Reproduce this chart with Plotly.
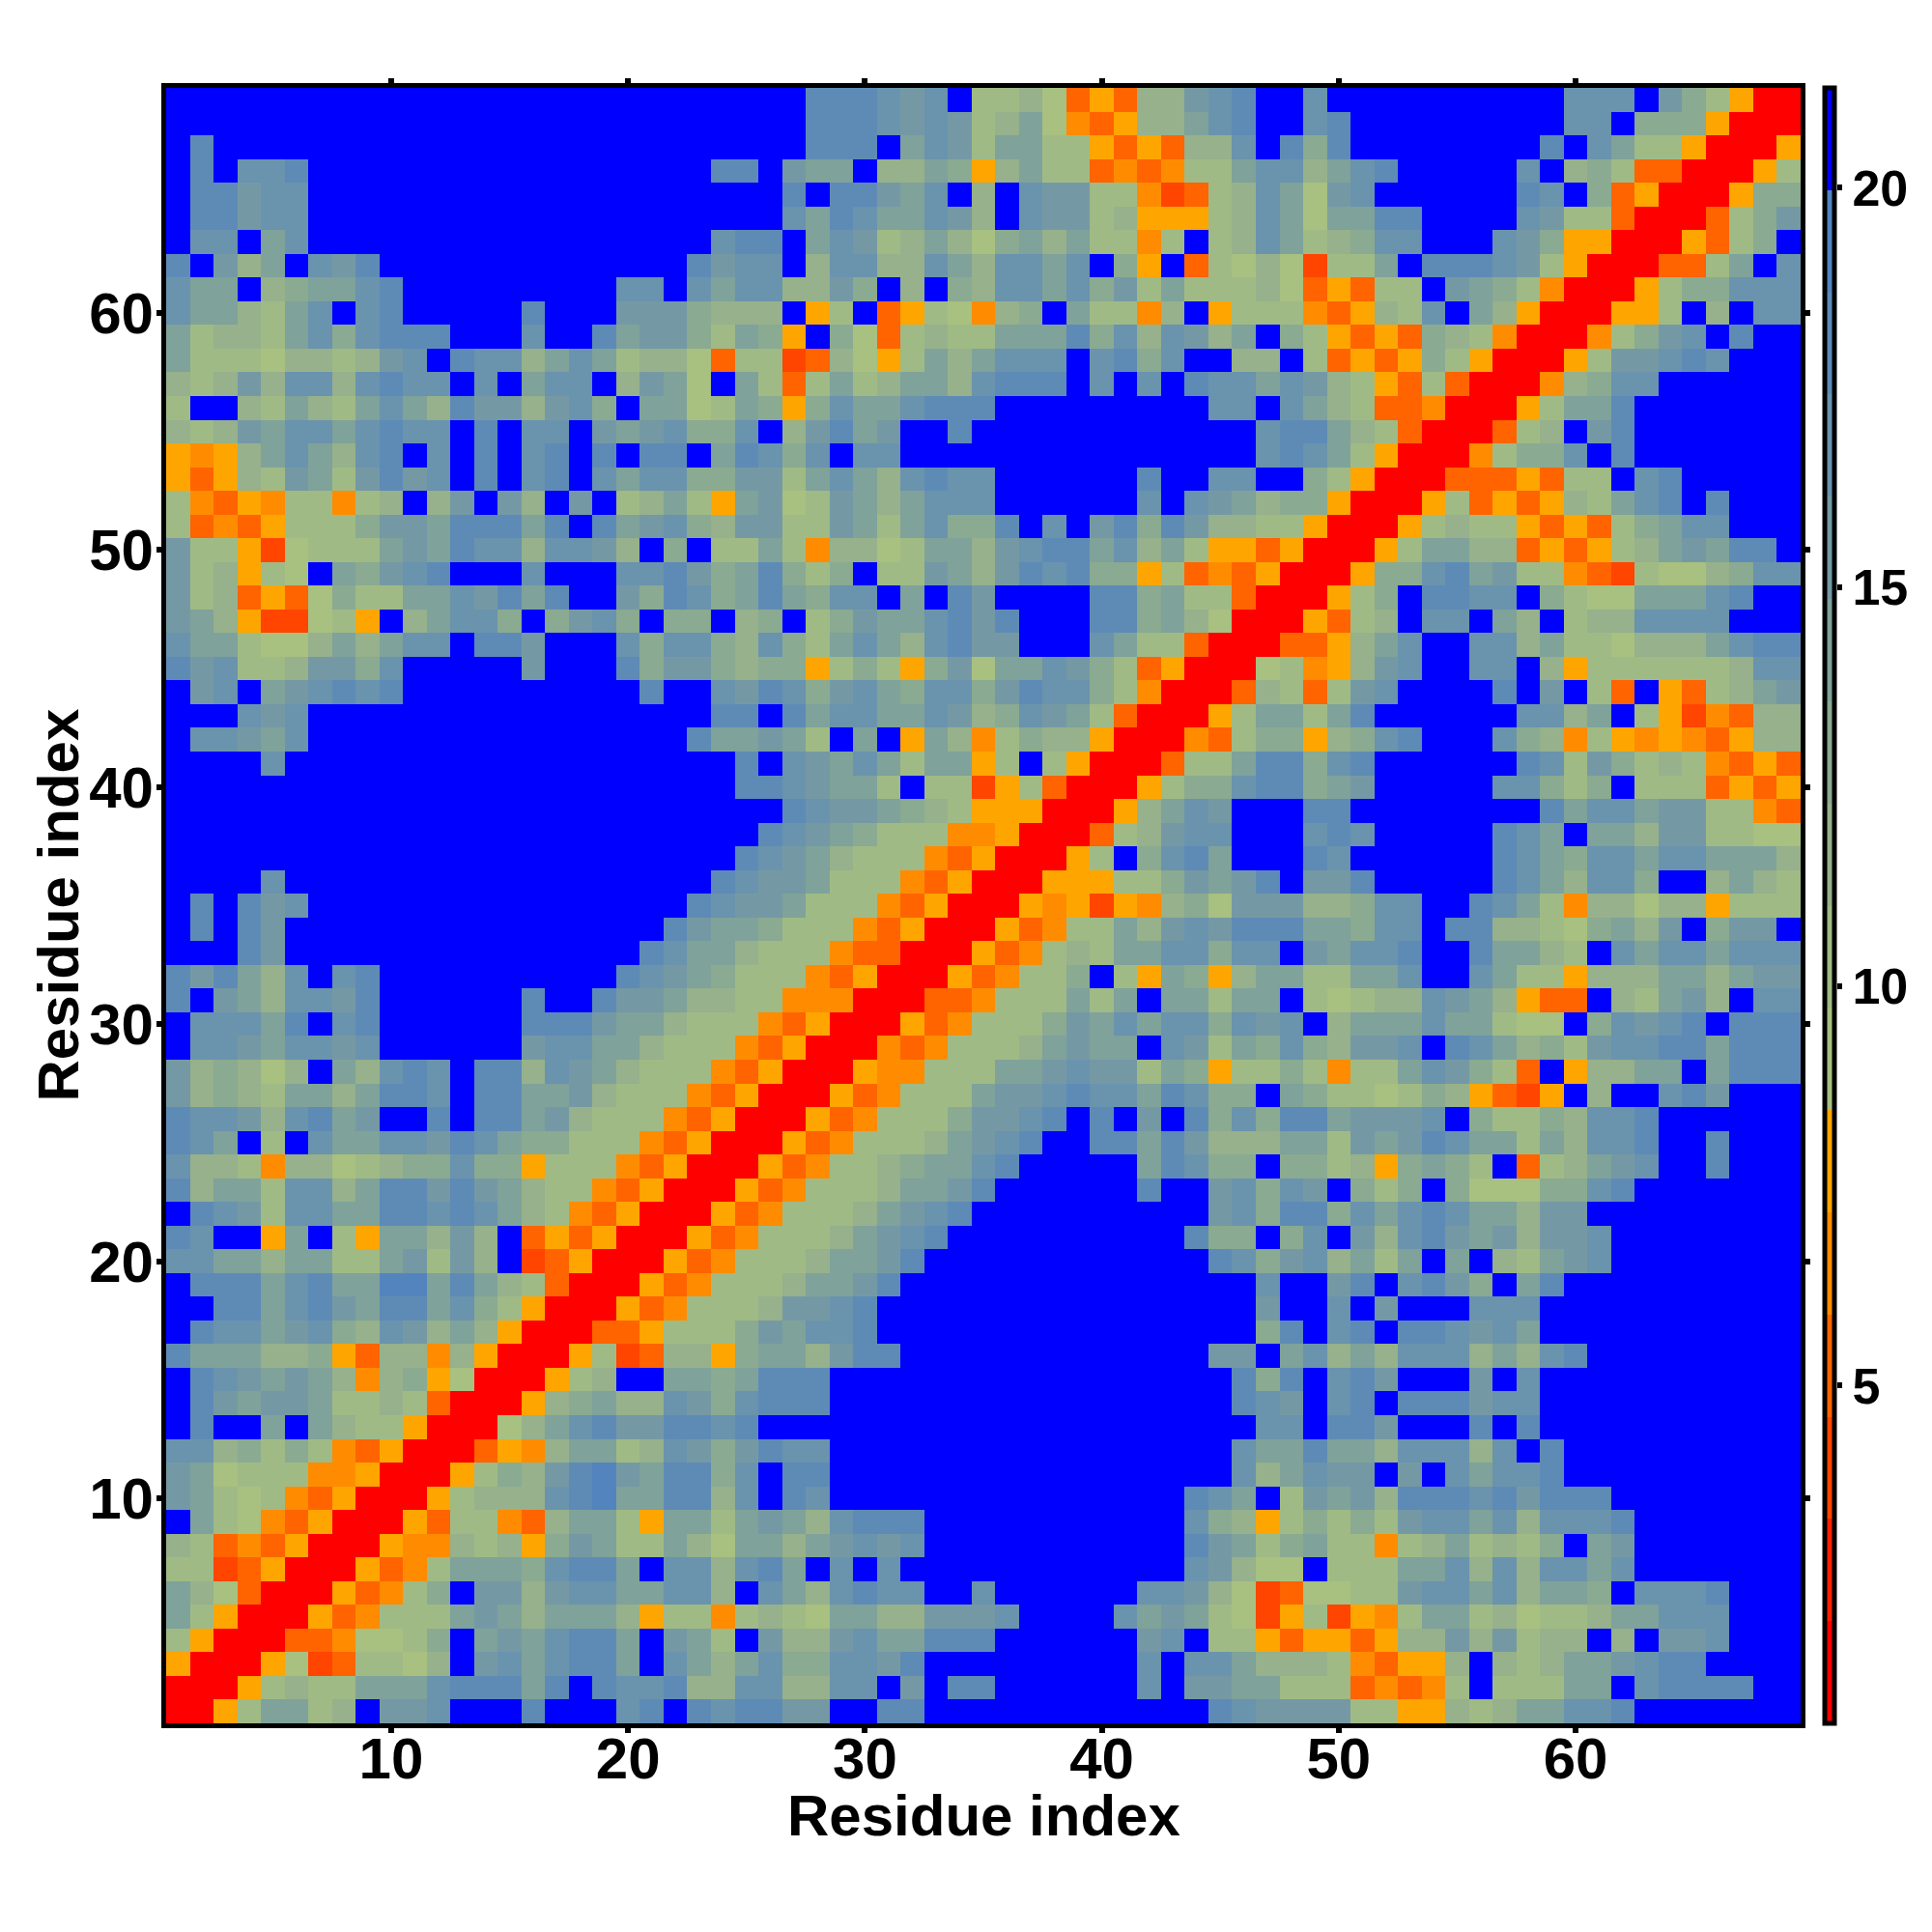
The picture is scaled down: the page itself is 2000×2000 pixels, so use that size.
import plotly.graph_objects as go

# Upper triangle of the symmetric distance map, one string per residue.
# Each row starts at its diagonal cell; each character is a colour-bin index (hex).
upper_rows = [
"0057aa78fb bcfffdfffc dfdcddbbff ddffffffff ffffdcbbbb 7755878aac cdfffffff",
"0057877aa acdddadfdc cd88cc88cc fbfddfffff fcfbbaa777 34347f777a afcddddff",
"00562377 68fbcacdda fca8ac99cc bdffffffff fcfcca8887 43558f878a abcddffff",
"0033466 79fabacdda fba7fb88bc aadddfffff fbcf775355 3588b8b788 f8fbbcfff",
"005347 77aba8aaa8 57747876aa 88bbbcffff caba762572 547aa78677 8aacccfff",
"00534 79fbb8bcca acc8fca8cd ccffcfffff fccb862366 77bccac8aa 9fcccdfff",
"0053 47aaa9cdda fcc8cdafcf cfffffffff fffcb866f7 77aac8c8cc acfffffff",
"005 4487859ba7 7a86aa8abc bcffffffff fffdba79a7 7478a7879f abfffffff",
"00 5377438aa7 5aa7aba8cd ddffffffff fffc985797 97bccac8cc cdfffffff",
"0 057888cdea add8cfdcff ffffffffff fffdcaf7ba b8dddcdbdd dffffffff",
"005798bdeb add9cfddff ffffffffff fffffc8acb bfbfcaccdf fffffffff",
"003548aa7 8cb9bdccff ffffffffff fffffcaada a8ccc8cfdf fffffffff",
"0068acdb bddcdfffff ffffffffff ffffffccfd dbfffdfdff fffffffff",
"00589a8 8cb9cdddff ffffffffff fffffdcbfc dfdddbccff fffffffff",
"00578f faa9adddff ffffffffff fffffd9dfc dbfffbfcff fffffffff",
"00572 38859aa8bd dfffffffff ffffbbfac8 a8ccc8a8cd fffffffff",
"0033 57779baccd ffffffffff ffffff9dfc dfddcbcaff fffffffff",
"005 347778bbcd ffffffffff ffffffbffc fbfffcccff fffffffff",
"00 5347778aab dfffffffff ffffffcffb dfcdb9fadf fffffffff",
"0 05347778aa bdffffffff ffffdc9bc8 a7afaf87ab cffffffff",
"005347778a bcdfffffff fffd99f9cf b8cdbab8bb cffffffff",
"005347778 abcdffffff ffffbc9dd9 cacdcaa8bb fffffffff",
"00534777 8aabdfffff fdffbc9cbf 979f966699 cdfffffff",
"0053477 89aacdffff fadc99f997 859a97f378 abcffdfff",
"005347 778abcdffd dadb888aa7 babdcaa7a8 ccdffdfff",
"00534 7779bbcdfd fbfd9c9dda bbbcf97798 ccdffffff",
"0053 4777abbcdc cadc99fa97 767985325f 8ffcdbfff",
"005 44777aabcb b7a9577974 77acb973f5 88aafaddd",
"00 4347778aba afcb7a9c98 bbcfdca897 bccddaddd",
"0 05347779ba cacc9cbcf8 aaacaa766f 9cbcdfddd",
"00334777a7 afaa7aaf76 788cba8533 f87ab8fcc",
"00534779f 75a958aa77 aacffca775 888aa8abb",
"00534787 aacc9ccfba ccdffdaa87 fcaccaccc",
"0053477 a8bcbdddaa 9ccfdd8876 9a8bf9bbf",
"005452 54896bbb88 9ccffdca74 886885777",
"00555 779babdfbb dfffffdca8 cc9ff8a87",
"0057 f9cdafffdc ffffffdca9 ccaccaaa8",
"003 78bccfffcd cfffffdcaf aa8bb7766",
"00 58acbfffdd ffffffffda ccabb7743",
"0 05799cdd9a bfffffcc97 9f7773535",
"00377add9c dffffffdc7 b97874353",
"004379958 9cdfffc984 754543588",
"0057aa7a dffffffcc8 af7524388",
"0038737 bcffffdfbf 73f5378ab",
"006745 8bcffccf85 7777778cc",
"00335 8acffcc8a7 76888acdd",
"0053 78fccfa8f7 88ccccfff",
"005 79fddccf97 66aaacdff",
"00 599cdab774 3276689cc",
"0 057aa88353 578abaddf",
"0057877535 379accfff",
"005735358 7acdfdfff",
"00333537 7fcdfffff",
"004799c fdfffffff",
"00378f bdfffffff",
"0057a adfffffff",
"0048 9ccffffff",
"005 7bbcdcfff",
"00 479bcfdff",
"0 0557f8fcc",
"005799ccc",
"00337afc",
"005379f",
"00379b",
"00599",
"0057",
"005",
"00",
"0",
]

residues = list(range(1, 70))
bin_values = [1.41, 2.69, 3.97, 5.25, 6.53, 7.81, 9.09, 10.37, 11.65, 12.93,
              14.21, 15.49, 16.77, 18.05, 19.33, 20.61]
bin_colors = ["#FF0000", "#FF2000", "#FF4500", "#FF6400", "#FF8C00", "#FFA500",
              "#A8C080", "#A0BA86", "#96B18B", "#8AAA91", "#7FA29A", "#7599A4",
              "#6A93AD", "#5E8BB6", "#5484BD", "#0000FF"]
z_min, z_max = 0.77, 21.25
tick_vals = [10, 20, 30, 40, 50, 60]
cbar_ticks = [5, 10, 15, 20]
axis_title = "Residue index"

n = len(residues)
z = [[None] * n for _ in range(n)]
for r, row in enumerate(upper_rows):
    cells = row.replace(" ", "")
    assert len(cells) == n - r, f"row {r + 1}: {len(cells)} != {n - r}"
    for k, ch in enumerate(cells):
        v = bin_values[int(ch, 16)]
        z[r][r + k] = v
        z[r + k][r] = v

scale = []
nb = len(bin_colors)
for i, c in enumerate(bin_colors):
    scale.append([i / nb, c])
    scale.append([(i + 1) / nb, c])

FONT = "Liberation Sans"
PLOT_W = 1692            # inner frame width
PLOT_H = 1693            # inner frame height
PAPER_W = 1729           # frame left edge to colour-bar right edge
label_font = dict(family=FONT, size=60, color="black", weight="bold")

fig = go.Figure()
fig.add_trace(go.Heatmap(
    x=residues, y=residues, z=z, zmin=z_min, zmax=z_max, colorscale=scale,
    hoverinfo="skip",
    colorbar=dict(
        x=(1889 - 172) / PAPER_W, xanchor="left", xpad=0,
        y=0.5, yanchor="middle", ypad=0,
        len=1, lenmode="fraction", thickness=10, thicknessmode="pixels",
        outlinecolor="black", outlinewidth=5, borderwidth=0,
        ticks="", showticklabels=False,
    ),
))
# Empty trace carrying the value scale printed beside the colour bar
fig.add_trace(go.Scatter(x=[None], y=[None], yaxis="y2", showlegend=False,
                         hoverinfo="skip"))
axis = dict(
    range=[0.5, 69.5], tickmode="array", tickvals=tick_vals, ticks="outside",
    ticklen=5, tickwidth=6, tickcolor="black", showline=True, linecolor="black",
    linewidth=5, mirror="allticks", showgrid=False, zeroline=False,
    tickfont=label_font,
)
fig.update_xaxes(**axis, domain=[0, PLOT_W / PAPER_W], ticklabelstandoff=-25)
fig.update_yaxes(**axis, ticklabelstandoff=-9)
fig.update_layout(
    width=2000, height=2000, autosize=False, paper_bgcolor="white",
    plot_bgcolor="white", margin=dict(l=164, r=107, t=83, b=224, pad=0),
    yaxis2=dict(
        overlaying="y", anchor="free", position=1, side="right",
        range=[z_min, z_max], tickmode="array", tickvals=cbar_ticks,
        ticks="outside", ticklen=5, tickwidth=6, tickcolor="black",
        showline=False, showgrid=False, zeroline=False,
        tickfont=dict(family=FONT, size=52, color="black", weight="bold"),
    ),
    annotations=[
        dict(text=axis_title, xref="paper", yref="paper", showarrow=False,
             x=(1018 - 172) / PAPER_W, y=-(1879 - 1784) / PLOT_H,
             xanchor="center", yanchor="middle", font=label_font),
        dict(text=axis_title, xref="paper", yref="paper", showarrow=False,
             x=-(172 - 60) / PAPER_W, y=0.5, textangle=-90,
             xanchor="center", yanchor="middle", font=label_font),
    ],
)
fig.write_html("out.html")
